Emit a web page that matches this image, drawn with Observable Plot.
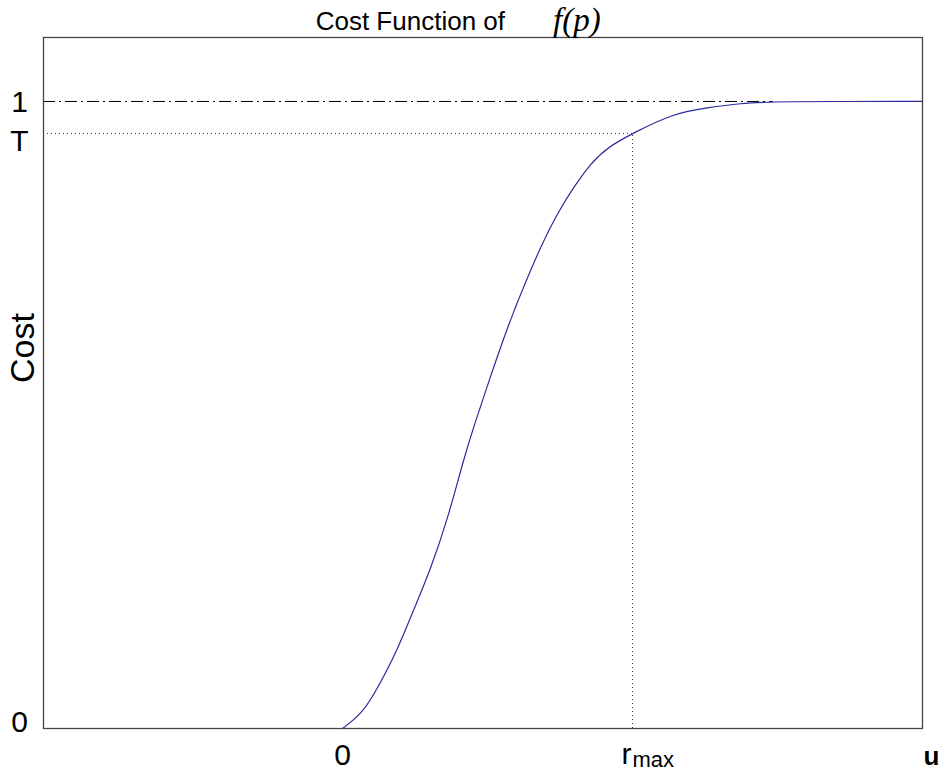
<!DOCTYPE html>
<html>
<head>
<meta charset="utf-8">
<script src="https://cdn.jsdelivr.net/npm/d3@7"></script>
<script src="https://cdn.jsdelivr.net/npm/@observablehq/plot@0.6"></script>
<style>
  html, body { margin: 0; padding: 0; background: #fff; }
  #chart svg { display: block; }
</style>
</head>
<body>
<div id="chart"></div>
<script>
// ---- data ----
const curveX = [0, 0.072, 0.131, 0.190, 0.245, 0.303, 0.362, 0.417, 0.452, 0.510, 0.569, 0.624, 0.683, 0.741, 0.797, 0.855, 0.914, 1.0, 1.141, 1.259, 1.372, 1.486, 2.0];
const curveY = [0, 0.025, 0.073, 0.126, 0.189, 0.253, 0.333, 0.428, 0.481, 0.561, 0.640, 0.704, 0.768, 0.822, 0.863, 0.901, 0.927, 0.949, 0.981, 0.990, 0.997, 1.0, 1.0];
const T = 0.949;
const RMAX = 1.0;
const xDomain = [-1.031, 2.0];
const yDomain = [0, 1.102];
const yTickValues = [0, T, 1];
const yTickLabels = ["0", "T", "1"];
const xTickValues = [0];
const xTickLabels = ["0"];
const dashEndX = 1.486;
const titleText = "Cost Function of";
const titleMath = "f(p)";
const yLabel = "Cost";
const xLabel = "u";

const curve = curveX.map((x, i) => ({x, y: curveY[i]}));
const yTicks = yTickValues.map((v, i) => ({v, label: yTickLabels[i]}));
const xTicks = xTickValues.map((v, i) => ({v, label: xTickLabels[i]}));
const yTickShift = {"0": -6, "T": 8, "1": 1};

const sans = "Liberation Sans, Arial, Helvetica, sans-serif";
const serif = "Liberation Serif, Times New Roman, serif";

const yTickMarks = yTicks.map(t =>
  Plot.text([t], {y: "v", text: "label", frameAnchor: "left", dx: -24, dy: yTickShift[t.label] ?? 0, textAnchor: "middle", fontSize: 30, fill: "#000"})
);

const chart = Plot.plot({
  width: 943,
  height: 773,
  marginLeft: 43,
  marginRight: 21,
  marginTop: 37,
  marginBottom: 45,
  style: {fontFamily: sans, background: "#fff", color: "#000"},
  x: {domain: xDomain, axis: null},
  y: {domain: yDomain, axis: null},
  marks: [
    // reference lines
    Plot.ruleY([1], {x1: xDomain[0], x2: dashEndX, stroke: "#000", strokeWidth: 1, strokeDasharray: "12,4,2,4"}),
    Plot.ruleY([T], {x1: xDomain[0], x2: RMAX, stroke: "#333", strokeWidth: 1, strokeDasharray: "1,3"}),
    Plot.ruleX([RMAX], {y1: 0, y2: T, stroke: "#333", strokeWidth: 1, strokeDasharray: "1,3"}),
    // curve
    Plot.line(curve, {x: "x", y: "y", stroke: "#2b2b9c", strokeWidth: 1.2, curve: "basis"}),
    // frame
    Plot.frame({stroke: "#444", strokeWidth: 1.3}),
    // y tick labels
    ...yTickMarks,
    // x tick labels
    Plot.text(xTicks, {x: "v", text: "label", frameAnchor: "bottom", dy: 36, textAnchor: "middle", fontSize: 30, fill: "#000"}),
    Plot.text([RMAX], {x: d => d, text: () => "r", frameAnchor: "bottom", dy: 35, dx: -1, textAnchor: "end", fontSize: 30, fill: "#000"}),
    Plot.text([RMAX], {x: d => d, text: () => "max", frameAnchor: "bottom", dy: 38, dx: 0, textAnchor: "start", fontSize: 22, fill: "#000"}),
    // x label
    Plot.text([xLabel], {frameAnchor: "bottom-right", dx: 9, dy: 36, textAnchor: "middle", fontSize: 26, fontWeight: "bold", fill: "#000"}),
    // y label
    Plot.text([yLabel], {frameAnchor: "left", dx: -20, rotate: -90, fontSize: 34, fill: "#000"}),
    // title
    Plot.text([titleText], {frameAnchor: "top", dx: 22, dy: -26, textAnchor: "end", fontSize: 26, fill: "#000"}),
    Plot.text([titleMath], {frameAnchor: "top", dx: 70, dy: -30, textAnchor: "start", fontSize: 33, fontStyle: "italic", fontFamily: serif, fill: "#000"})
  ]
});
document.getElementById("chart").appendChild(chart);
</script>
</body>
</html>
